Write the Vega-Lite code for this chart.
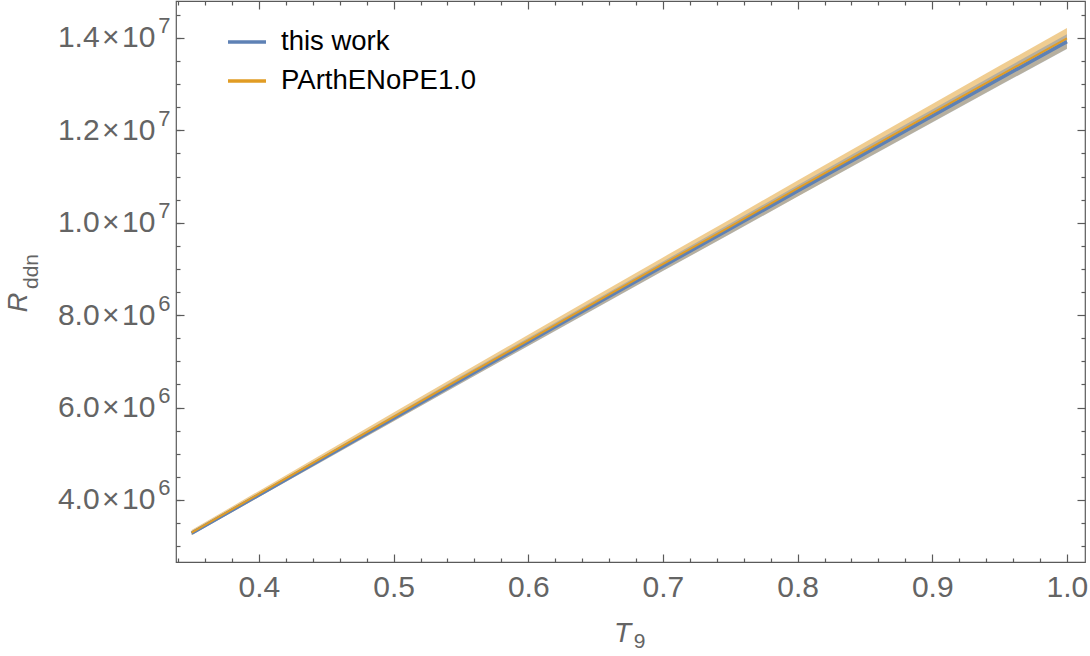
{
  "$schema": "https://vega.github.io/schema/vega-lite/v6.json",
  "width": 909,
  "height": 561,
  "autosize": {"type": "none"},
  "padding": {"left": 176, "top": 1, "right": 5, "bottom": 94},
  "background": "white",
  "config": {
    "font": "Liberation Sans",
    "view": {"stroke": "#5a5a5a", "strokeWidth": 1.2},
    "axis": {
      "domain": false,
      "grid": false,
      "labelFont": "Liberation Sans",
      "labelColor": "#646464",
      "labelFontSize": 30,
      "tickColor": "#5a5a5a",
      "tickWidth": 1.2,
      "labelOverlap": false,
      "labelBound": false,
      "labelFlush": false
    },
    "legend": {
      "orient": "none",
      "legendX": 50,
      "legendY": 20,
      "padding": 0,
      "symbolType": "stroke",
      "symbolSize": 1444,
      "symbolStrokeWidth": 3.5,
      "labelFont": "Liberation Sans",
      "labelFontSize": 27.5,
      "labelColor": "black",
      "labelOffset": 13,
      "labelLimit": 500,
      "rowPadding": 4,
      "title": null
    }
  },
  "datasets": {
    "rates": [
      {"T": 0.35, "series": "this work", "R": 3280000, "lo": 3242000, "hi": 3318000},
      {"T": 0.40, "series": "this work", "R": 4110000, "lo": 4063000, "hi": 4157000},
      {"T": 0.45, "series": "this work", "R": 4940000, "lo": 4883000, "hi": 4997000},
      {"T": 0.50, "series": "this work", "R": 5770000, "lo": 5704000, "hi": 5836000},
      {"T": 0.55, "series": "this work", "R": 6600000, "lo": 6524000, "hi": 6676000},
      {"T": 0.60, "series": "this work", "R": 7420000, "lo": 7335000, "hi": 7505000},
      {"T": 0.65, "series": "this work", "R": 8240000, "lo": 8145000, "hi": 8335000},
      {"T": 0.70, "series": "this work", "R": 9060000, "lo": 8956000, "hi": 9164000},
      {"T": 0.75, "series": "this work", "R": 9870000, "lo": 9757000, "hi": 9984000},
      {"T": 0.80, "series": "this work", "R": 10690000, "lo": 10567000, "hi": 10813000},
      {"T": 0.85, "series": "this work", "R": 11500000, "lo": 11368000, "hi": 11632000},
      {"T": 0.90, "series": "this work", "R": 12310000, "lo": 12168000, "hi": 12452000},
      {"T": 0.95, "series": "this work", "R": 13120000, "lo": 12969000, "hi": 13271000},
      {"T": 1.00, "series": "this work", "R": 13920000, "lo": 13760000, "hi": 14080000},
      {"T": 0.35, "series": "PArthENoPE1.0", "R": 3296000, "lo": 3243000, "hi": 3349000},
      {"T": 0.40, "series": "PArthENoPE1.0", "R": 4131000, "lo": 4065000, "hi": 4197000},
      {"T": 0.45, "series": "PArthENoPE1.0", "R": 4965000, "lo": 4886000, "hi": 5044000},
      {"T": 0.50, "series": "PArthENoPE1.0", "R": 5799000, "lo": 5706000, "hi": 5892000},
      {"T": 0.55, "series": "PArthENoPE1.0", "R": 6633000, "lo": 6527000, "hi": 6739000},
      {"T": 0.60, "series": "PArthENoPE1.0", "R": 7457000, "lo": 7338000, "hi": 7576000},
      {"T": 0.65, "series": "PArthENoPE1.0", "R": 8281000, "lo": 8149000, "hi": 8414000},
      {"T": 0.70, "series": "PArthENoPE1.0", "R": 9105000, "lo": 8959000, "hi": 9251000},
      {"T": 0.75, "series": "PArthENoPE1.0", "R": 9919000, "lo": 9760000, "hi": 10078000},
      {"T": 0.80, "series": "PArthENoPE1.0", "R": 10743000, "lo": 10571000, "hi": 10915000},
      {"T": 0.85, "series": "PArthENoPE1.0", "R": 11558000, "lo": 11373000, "hi": 11743000},
      {"T": 0.90, "series": "PArthENoPE1.0", "R": 12372000, "lo": 12174000, "hi": 12570000},
      {"T": 0.95, "series": "PArthENoPE1.0", "R": 13186000, "lo": 12975000, "hi": 13397000},
      {"T": 1.00, "series": "PArthENoPE1.0", "R": 13990000, "lo": 13766000, "hi": 14214000}
    ]
  },
  "data": {"name": "rates"},
  "resolve": {"axis": {"x": "independent", "y": "independent"}},
  "layer": [
    {
      "transform": [{"filter": "datum.series === 'PArthENoPE1.0'"}],
      "mark": {"type": "area", "color": "#E19C24", "opacity": 0.5},
      "encoding": {
        "x": {
          "field": "T", "type": "quantitative",
          "scale": {"domain": [0.3384, 1.0134], "nice": false, "zero": false},
          "axis": {
            "orient": "bottom",
            "values": [0.4, 0.5, 0.6, 0.7, 0.8, 0.9, 1.0],
            "format": ".1f",
            "tickSize": -8,
            "labelPadding": 18,
            "title": "T",
            "titleFont": "Liberation Sans",
            "titleFontStyle": "italic",
            "titleFontWeight": "normal",
            "titleFontSize": 28,
            "titleColor": "#646464",
            "titleX": 446,
            "titleY": 79,
            "titleAlign": "center",
            "titleBaseline": "alphabetic"
          }
        },
        "y": {
          "field": "lo", "type": "quantitative",
          "scale": {"domain": [2658000, 14800000], "nice": false, "zero": false},
          "axis": {
            "orient": "left",
            "values": [4000000, 6000000, 8000000, 10000000, 12000000, 14000000],
            "labelExpr": "(datum.value >= 9999999 ? format(datum.value/1e7, '.1f') : format(datum.value/1e6, '.1f')) + '\u200a×\u200a10'",
            "tickSize": -8,
            "labelPadding": 29,
            "labelAlign": "right",
            "labelBaseline": "middle",
            "title": "R",
            "titleFont": "Liberation Sans",
            "titleFontStyle": "italic",
            "titleFontWeight": "normal",
            "titleFontSize": 27,
            "titleColor": "#646464",
            "titleAngle": -90,
            "titleX": -150,
            "titleY": 301,
            "titleAlign": "center",
            "titleBaseline": "alphabetic"
          }
        },
        "y2": {"field": "hi"}
      }
    },
    {
      "transform": [{"filter": "datum.series === 'this work'"}],
      "mark": {"type": "area", "color": "#5E81B5", "opacity": 0.4},
      "encoding": {
        "x": {
          "field": "T", "type": "quantitative",
          "scale": {"domain": [0.3384, 1.0134], "nice": false, "zero": false},
          "axis": {
            "orient": "top",
            "values": [0.4, 0.5, 0.6, 0.7, 0.8, 0.9, 1.0],
            "labels": false,
            "tickSize": -8,
            "title": null
          }
        },
        "y": {
          "field": "lo", "type": "quantitative",
          "scale": {"domain": [2658000, 14800000], "nice": false, "zero": false},
          "axis": {
            "orient": "left",
            "values": [3000000, 3500000, 4000000, 4500000, 5000000, 5500000, 6000000, 6500000, 7000000, 7500000, 8000000, 8500000, 9000000, 9500000, 10000000, 10500000, 11000000, 11500000, 12000000, 12500000, 13000000, 13500000, 14000000, 14500000],
            "labelExpr": "(datum.value % 2000000 == 0) ? (datum.value >= 9999999 ? '7' : '6') : ''",
            "labelFontSize": 22,
            "labelOffset": -12,
            "tickSize": -4,
            "labelPadding": 10,
            "labelAlign": "right",
            "labelBaseline": "middle",
            "title": "ddn",
            "titleFont": "Liberation Sans",
            "titleFontStyle": "normal",
            "titleFontWeight": "normal",
            "titleFontSize": 21,
            "titleColor": "#646464",
            "titleAngle": -90,
            "titleX": -139,
            "titleY": 270,
            "titleAlign": "center",
            "titleBaseline": "alphabetic"
          }
        },
        "y2": {"field": "hi"}
      }
    },
    {
      "transform": [{"filter": "datum.series === 'this work'"}],
      "mark": {"type": "line", "strokeWidth": 3.5},
      "encoding": {
        "x": {
          "field": "T", "type": "quantitative",
          "scale": {"domain": [0.3384, 1.0134], "nice": false, "zero": false},
          "axis": {
            "orient": "bottom",
            "values": [0.34, 0.36, 0.38, 0.42, 0.44, 0.46, 0.48, 0.52, 0.54, 0.56, 0.58, 0.62, 0.64, 0.66, 0.68, 0.72, 0.74, 0.76, 0.78, 0.82, 0.84, 0.86, 0.88, 0.92, 0.94, 0.96, 0.98],
            "labels": false,
            "tickSize": -4,
            "title": "9",
            "titleFont": "Liberation Sans",
            "titleFontStyle": "normal",
            "titleFontWeight": "normal",
            "titleFontSize": 21,
            "titleColor": "#646464",
            "titleX": 463,
            "titleY": 85,
            "titleAlign": "center",
            "titleBaseline": "alphabetic"
          }
        },
        "y": {
          "field": "R", "type": "quantitative",
          "scale": {"domain": [2658000, 14800000], "nice": false, "zero": false},
          "axis": {
            "orient": "right",
            "values": [4000000, 6000000, 8000000, 10000000, 12000000, 14000000],
            "labels": false,
            "tickSize": -8,
            "title": null
          }
        },
        "color": {
          "field": "series", "type": "nominal",
          "scale": {"domain": ["this work", "PArthENoPE1.0"], "range": ["#5E81B5", "#E19C24"]},
          "legend": {}
        }
      }
    },
    {
      "transform": [{"filter": "datum.series === 'PArthENoPE1.0'"}],
      "mark": {"type": "line", "strokeWidth": 2},
      "encoding": {
        "x": {
          "field": "T", "type": "quantitative",
          "scale": {"domain": [0.3384, 1.0134], "nice": false, "zero": false},
          "axis": {
            "orient": "top",
            "values": [0.34, 0.36, 0.38, 0.42, 0.44, 0.46, 0.48, 0.52, 0.54, 0.56, 0.58, 0.62, 0.64, 0.66, 0.68, 0.72, 0.74, 0.76, 0.78, 0.82, 0.84, 0.86, 0.88, 0.92, 0.94, 0.96, 0.98],
            "labels": false,
            "tickSize": -4,
            "title": null
          }
        },
        "y": {
          "field": "R", "type": "quantitative",
          "scale": {"domain": [2658000, 14800000], "nice": false, "zero": false},
          "axis": {
            "orient": "right",
            "values": [3000000, 3500000, 4500000, 5000000, 5500000, 6500000, 7000000, 7500000, 8500000, 9000000, 9500000, 10500000, 11000000, 11500000, 12500000, 13000000, 13500000, 14500000],
            "labels": false,
            "tickSize": -4,
            "title": null
          }
        },
        "color": {
          "field": "series", "type": "nominal",
          "scale": {"domain": ["this work", "PArthENoPE1.0"], "range": ["#5E81B5", "#E19C24"]},
          "legend": {}
        }
      }
    }
  ]
}
